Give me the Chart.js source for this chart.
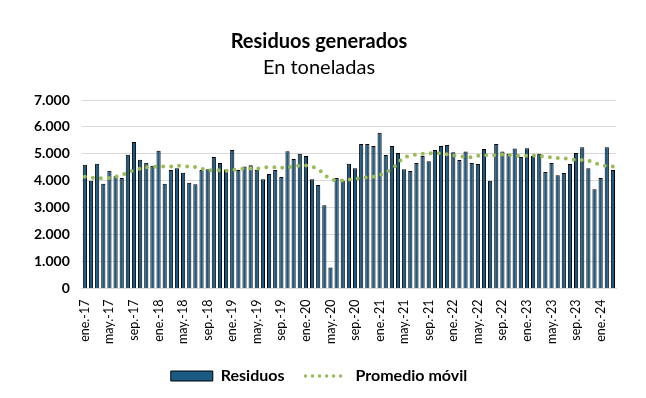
<!DOCTYPE html>
<html>
<head>
<meta charset="utf-8">
<script src="https://cdn.jsdelivr.net/npm/chart.js@4.4.1/dist/chart.umd.min.js"></script>
<style>
  html, body { margin: 0; padding: 0; background: #fff; }
  #wrap { width: 646px; height: 398px; }
</style>
</head>
<body>
<div id="wrap"><canvas id="residuosChart"></canvas></div>
<script>
"use strict";

var meses = ["ene.", "feb.", "mar.", "abr.", "may.", "jun.", "jul.", "ago.", "sep.", "oct.", "nov.", "dic."];
var anios = ["17", "18", "19", "20", "21", "22", "23", "24"];
var nMeses = 87; // ene.-17 a mar.-24

// toneladas por mes
var residuos = [
    4600, 4000, 4630, 3890, 4370, 4170, 4100, 4970, 5440, 4780, 4670, 4560,
    5120, 3890, 4400, 4470, 4300, 3925, 3875, 4400, 4430, 4880, 4660, 4420,
    5140, 4400, 4530, 4580, 4410, 4060, 4250, 4400, 4140, 5100, 4810, 5000,
    4920, 4060, 3840, 3090, 780, 4100, 4000, 4630, 4470, 5370, 5370, 5290,
    5780, 4960, 5290, 5030, 4430, 4360, 4660, 4920, 4730, 5140, 5290, 5330,
    5060, 4770, 5090, 4660, 4620, 5180, 4000, 5370, 5090, 5000, 5200, 4880,
    5210, 4920, 5000, 4330, 4660, 4210, 4290, 4620, 5030, 5250, 4470, 3690,
    4100, 5250, 4400
];

var promedioMovil = [
    4150, 4120, 4100, 4100, 4110, 4150, 4210, 4310, 4400, 4450, 4500, 4520,
    4530, 4530, 4530, 4560, 4540, 4530, 4510, 4450, 4390, 4400, 4390, 4370,
    4400, 4440, 4450, 4460, 4450, 4490, 4510, 4500, 4480, 4500, 4540, 4560,
    4570, 4520, 4430, 4230, 4060, 4020, 4010, 4040, 4070, 4100, 4130, 4150,
    4210, 4310, 4440, 4650, 4880, 4920, 4980, 5000, 5020, 5020, 5020, 4980,
    4950, 4920, 4880, 4880, 4930, 4960, 4920, 4960, 4980, 4960, 4940, 4920,
    4930, 4940, 4930, 4890, 4870, 4850, 4840, 4800, 4780, 4770, 4750, 4680,
    4580, 4550, 4530
];

var yTicks = [0, 1000, 2000, 3000, 4000, 5000, 6000, 7000];

var categorias = [];
for (var i = 0; i < nMeses; i++) {
    categorias.push(meses[i % 12] + "-" + anios[Math.floor(i / 12)]);
}

var azul = "#1b5a84", verde = "#9bbb59", fuente = "Lato, 'Liberation Sans', sans-serif";

function miles(v) {
    return String(v).replace(/\B(?=(\d{3})+(?!\d))/g, ".");
}

new Chart(document.getElementById("residuosChart"), {
    type: "bar",
    data: {
        labels: categorias,
        datasets: [{
            label: "Residuos",
            data: residuos,
            backgroundColor: azul,
            borderColor: "#000",
            borderWidth: 1,
            categoryPercentage: 1,
            barPercentage: 0.68,
            order: 2
        }, {
            type: "line",
            label: "Promedio móvil",
            data: promedioMovil,
            borderColor: verde,
            borderWidth: 4,
            borderDash: [0, 8],
            borderCapStyle: "round",
            pointRadius: 0,
            tension: 0.3,
            fill: false,
            order: 1
        }]
    },
    options: {
        responsive: true,
        maintainAspectRatio: false,
        animation: false,
        layout: { padding: { left: 22, right: 30, top: 14, bottom: 4 } },
        plugins: {
            tooltip: { enabled: false },
            title: {
                display: true,
                text: "Residuos generados",
                color: "#000",
                font: { family: fuente, size: 20, weight: "bold" },
                padding: { top: 16, bottom: 2 }
            },
            subtitle: {
                display: true,
                text: "En toneladas",
                color: "#000",
                font: { family: fuente, size: 20 },
                padding: { bottom: 20 }
            },
            legend: {
                position: "bottom",
                labels: {
                    usePointStyle: true,
                    pointStyleWidth: 42,
                    boxHeight: 10,
                    padding: 21,
                    color: "#000",
                    font: { family: fuente, size: 16, weight: "bold" },
                    generateLabels: function() {
                        return [{
                            text: "Residuos", datasetIndex: 0, pointStyle: "rect",
                            fillStyle: azul, strokeStyle: "#000", lineWidth: 1
                        }, {
                            text: "Promedio móvil", datasetIndex: 1, pointStyle: "line",
                            fillStyle: "transparent", strokeStyle: verde, lineWidth: 3.5,
                            lineDash: [0, 7], lineCap: "round"
                        }];
                    }
                }
            }
        },
        scales: {
            x: {
                grid: { display: false },
                border: { color: "#d9d9d9" },
                ticks: {
                    autoSkip: false,
                    minRotation: 90,
                    maxRotation: 90,
                    color: "#000",
                    padding: 3,
                    font: { family: fuente, size: 12.5 },
                    callback: function(v, i) {
                        return i % 4 === 0 ? categorias[i] : "";
                    }
                }
            },
            y: {
                min: yTicks[0],
                max: yTicks[yTicks.length - 1],
                afterBuildTicks: function(axis) {
                    axis.ticks = yTicks.map(function(v) { return { value: v }; });
                },
                grid: { color: "#d9d9d9", drawTicks: false },
                border: { display: false },
                ticks: {
                    color: "#000",
                    padding: 12,
                    font: { family: fuente, size: 14, weight: "bold" },
                    callback: function(v) { return miles(v); }
                }
            }
        }
    }
});
</script>
</body>
</html>
